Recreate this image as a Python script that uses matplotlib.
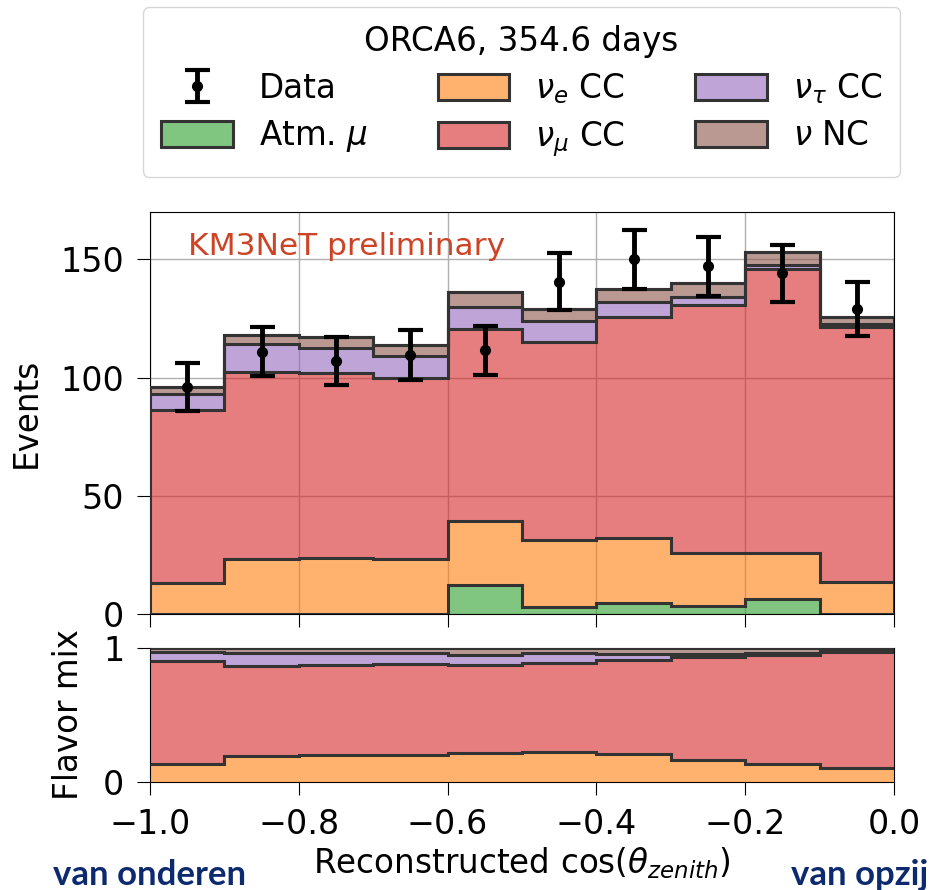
import matplotlib.pyplot as plt
import matplotlib.colors as mcolors
from matplotlib.patches import Patch
import numpy as np

# binning in reconstructed cos(zenith)
bin_edges = [-1.0, -0.9, -0.8, -0.7, -0.6, -0.5, -0.4, -0.3, -0.2, -0.1, 0.0]

# expected events per component (stacked bottom -> top)
atm_mu = [0, 0, 0, 0, 12.3, 3.0, 4.6, 3.4, 6.3, 0]
nu_e_cc = [13.0, 23.3, 23.7, 23.3, 27.1, 28.4, 27.6, 22.6, 19.7, 13.6]
nu_mu_cc = [73.4, 79.2, 78.3, 76.7, 81.3, 83.6, 93.3, 104.5, 119.8, 107.6]
nu_tau_cc = [6.6, 11.5, 10.7, 9.0, 9.3, 8.7, 6.5, 3.5, 1.7, 1.6]
nu_nc = [3.0, 4.0, 4.3, 4.6, 6.0, 5.1, 5.6, 6.0, 5.5, 2.6]

# observed data
data_counts = [96, 111, 107, 109.5, 111.5, 140.5, 150, 147, 144, 129]
data_err = [10, 10.5, 10, 10.5, 10.5, 12, 12.5, 12.5, 12, 11.5]

labels = ['Atm. $\\mu$', '$\\nu_e$ CC', '$\\nu_\\mu$ CC', '$\\nu_\\tau$ CC', '$\\nu$ NC']
colors = ['tab:green', 'tab:orange', 'tab:red', 'tab:purple', 'tab:brown']

edges = np.array(bin_edges)
centers = 0.5 * (edges[1:] + edges[:-1])
edge_col = '#333333'
fs = 23.5

plt.rcParams['font.family'] = ['DejaVu Sans']
fig = plt.figure(figsize=(9.33, 8.9), dpi=100)
ax = fig.add_axes([0.1608, 0.3101, 0.7974, 0.4517])
ax2 = fig.add_axes([0.1608, 0.1213, 0.7974, 0.1506], sharex=ax)

def fc(c):
    return mcolors.to_rgba(c, 0.6)

# main stacked histogram
bottom = np.zeros(len(centers))
for vals, c in zip([atm_mu, nu_e_cc, nu_mu_cc, nu_tau_cc, nu_nc], colors):
    top = bottom + np.array(vals)
    ax.stairs(top, edges, baseline=bottom, fill=True, facecolor=fc(c),
              edgecolor='none', zorder=2)
    ax.stairs(top, edges, baseline=None, color=edge_col, lw=2.2, zorder=3)
    bottom = top
ax.stairs(bottom, edges, baseline=0, color=edge_col, lw=2.2, zorder=3)

eb = ax.errorbar(centers, data_counts, yerr=data_err, fmt='o', color='black',
                 ms=7, elinewidth=3.5, capsize=9, capthick=3, zorder=5)

ax.set_xlim(-1.0, 0.0)
ax.set_ylim(0, 170)
ax.set_yticks([0, 50, 100, 150])
ax.grid(True, color='#b0b0b0', lw=1, zorder=0)
ax.set_axisbelow(True)
ax.set_ylabel('Events', fontsize=fs, labelpad=13)
ax.tick_params(axis='both', labelsize=24, length=9.5, pad=9)
ax.tick_params(axis='x', labelbottom=False)
ax.text(0.051, 0.913, 'KM3NeT preliminary', transform=ax.transAxes,
        color='#cc4425', fontsize=22.5, va='center', ha='left')

# flavor mix panel (fractions of neutrino components)
nu_total = np.array(nu_e_cc) + np.array(nu_mu_cc) + np.array(nu_tau_cc) + np.array(nu_nc)
bottom = np.zeros(len(centers))
for vals, c in zip([nu_e_cc, nu_mu_cc, nu_tau_cc, nu_nc], colors[1:]):
    top = bottom + np.array(vals) / nu_total
    ax2.stairs(top, edges, baseline=bottom, fill=True, facecolor=fc(c),
               edgecolor='none', zorder=2)
    ax2.stairs(top, edges, baseline=None, color=edge_col, lw=2.2, zorder=3)
    bottom = top
ax2.set_ylim(0, 1.0)
ax2.set_yticks([0, 1])
ax2.set_ylabel('Flavor mix', fontsize=fs, labelpad=13)
ax2.set_xticks([-1.0, -0.8, -0.6, -0.4, -0.2, 0.0])
ax2.tick_params(axis='both', labelsize=24, length=9.5, pad=9)
ax2.set_xlabel('Reconstructed cos($\\theta_{zenith}$)', fontsize=fs, labelpad=3)

# legend above the plot
patches = [Patch(facecolor=fc(c), edgecolor=edge_col, lw=2.2, label=l)
           for c, l in zip(colors, labels)]
handles = [eb, patches[0], patches[1], patches[2], patches[3], patches[4]]
names = ['Data', labels[0], labels[1], labels[2], labels[3], labels[4]]
fig.legend(handles, names, ncol=3, loc='upper left',
           bbox_to_anchor=(0.153, 0.992, 0.812, 0.0), mode='expand',
           borderaxespad=0, fontsize=fs, title='ORCA6, 354.6 days',
           title_fontsize=fs, handlelength=2.2, handleheight=0.85,
           handletextpad=0.8, borderpad=0.55, labelspacing=0.4, fancybox=True)

# annotations below
fig.text(0.057, 0.0056, 'van onderen', fontsize=25, fontweight='bold',
         family=['Lato', 'DejaVu Sans'], color='#0d2a6e', ha='left', va='baseline')
fig.text(0.995, 0.0056, 'van opzij', fontsize=25, fontweight='bold',
         family=['Lato', 'DejaVu Sans'], color='#0d2a6e', ha='right', va='baseline')

fig.savefig('out.png', dpi=100)
